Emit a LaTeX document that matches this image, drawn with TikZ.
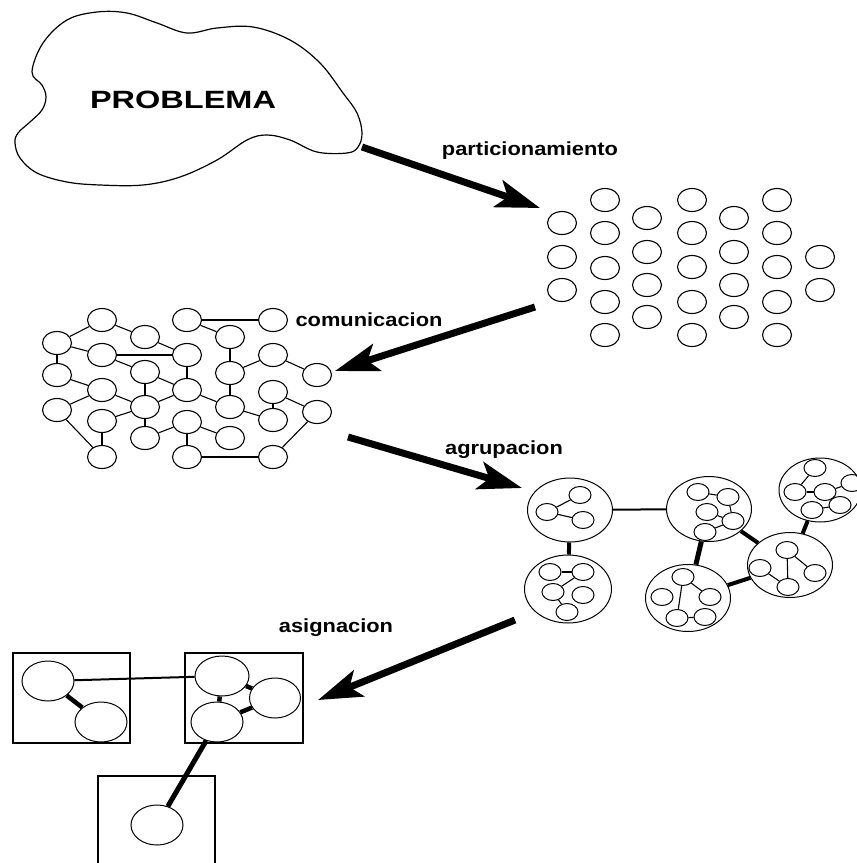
\documentclass[tikz,border=0pt]{standalone}
\usepackage{fontspec}
\setmainfont{Liberation Sans}
\usetikzlibrary{shapes.geometric,arrows.meta}
\begin{document}
\begin{tikzpicture}[x=1pt,y=-1pt,
  dot/.style={ellipse,draw,line width=1.1pt,minimum width=29pt,minimum height=23pt,inner sep=0pt},
  sub/.style={ellipse,draw,line width=1pt,minimum width=22pt,minimum height=17pt,inner sep=0pt},
  clus/.style={ellipse,draw,line width=1pt,inner sep=0pt},
  proc/.style={ellipse,draw,line width=1pt,minimum width=52pt,minimum height=40pt,inner sep=0pt},
  link/.style={line width=1.1pt},
  heavy/.style={line width=4.5pt},
  bigarrow/.style={line width=7pt,-{Stealth[length=44pt,width=28pt,inset=10pt]}},
  lbl/.style={font=\fontsize{19}{19}\selectfont\bfseries,inner sep=0pt,anchor=base}
]
\useasboundingbox (0,0) rectangle (857,863);

% ---- the problem cloud ----
\draw[line width=1.2pt] plot[smooth cycle,tension=0.6] coordinates {
  (32,72) (43,43) (67,20) (97,12) (127,13) (157,23) (187,33) (217,28)
  (253,27) (290,40) (320,63) (343,93) (357,113) (362,133) (358,147)
  (347,153) (317,152) (290,140) (267,135) (247,140) (217,160) (180,177)
  (143,185) (100,185) (67,182) (37,173) (20,158) (15,143) (18,133)
  (30,122) (42,110) (46,97) (42,85)};
\node[font=\fontsize{25}{25}\selectfont\bfseries,inner sep=0pt,anchor=base] (prob) at (183,108) {\scalebox{1.3}[1]{PROBLEMA}};

% ---- stage labels ----
\node[lbl] (lpart) at (530,155) {\scalebox{1.15}[1]{particionamiento}};
\node[lbl] (lcomm) at (369,326) {\scalebox{1.15}[1]{comunicacion}};
\node[lbl] (lagr)  at (504,454) {\scalebox{1.15}[1]{agrupacion}};
\node[lbl] (lasig) at (336,632) {\scalebox{1.15}[1]{asignacion}};

% ---- stage arrows ----
\coordinate (a1s) at (362,147); \coordinate (a1e) at (540,208);
\coordinate (a2s) at (535,307); \coordinate (a2e) at (335,371);
\coordinate (a3s) at (348,437); \coordinate (a3e) at (522,488);
\coordinate (a4s) at (515,620); \coordinate (a4e) at (318,700);
\draw[bigarrow] (a1s) -- (a1e);
\draw[bigarrow] (a2s) -- (a2e);
\draw[bigarrow] (a3s) -- (a3e);
\draw[bigarrow] (a4s) -- (a4e);

% ---- partitioned tasks ----
\foreach \y [count=\j] in {223,257,290} \node[dot] (p1-\j) at (562,\y) {};
\foreach \y [count=\j] in {200,233,268,302,335} \node[dot] (p2-\j) at (605,\y) {};
\foreach \y [count=\j] in {218,252,285,317} \node[dot] (p3-\j) at (647,\y) {};
\foreach \y [count=\j] in {200,233,267,302,335} \node[dot] (p4-\j) at (692,\y) {};
\foreach \y [count=\j] in {218,252,285,317} \node[dot] (p5-\j) at (734,\y) {};
\foreach \y [count=\j] in {200,233,267,302,335} \node[dot] (p6-\j) at (777,\y) {};
\foreach \y [count=\j] in {257,290} \node[dot] (p7-\j) at (820,\y) {};

% ---- communication graph ----
\foreach \n/\x/\y in {A/102/320,B/57/343,C/145/337,D/102/355,E/187/320,F/273/320,
  G/230/337,H/187/355,I/273/355,J/317/375,K/57/375,L/145/372,M/230/373,
  N/102/390,O/187/390,P/273/392,Q/57/410,R/145/407,S/230/407,T/317/412,
  U/102/421,V/273/420,W/187/422,X/145/438,Y/230/438,Z/102/457,AA/187/457,AB/273/457}
  \node[dot] (c\n) at (\x,\y) {};
\foreach \a/\b in {A/B,A/C,B/D,B/K,C/H,D/H,D/L,E/F,E/G,G/M,H/O,L/O,L/R,M/I,M/S,
  I/J,K/N,Q/N,N/R,O/R,O/S,S/V,P/V,P/T,U/R,U/Z,Q/Z,R/X,X/W,W/Y,W/AA,AA/AB,T/AB}
  \draw[link] (c\a) -- (c\b);

% ---- agglomerated clusters ----
\node[clus,minimum width=85pt,minimum height=64pt] (k1) at (570,510) {};
\node[clus,minimum width=87pt,minimum height=68pt] (k2) at (568,589) {};
\node[clus,minimum width=85pt,minimum height=65pt] (k3) at (709,509) {};
\node[clus,minimum width=82pt,minimum height=64pt] (k4) at (820,490) {};
\node[clus,minimum width=85pt,minimum height=65pt] (k5) at (790,565) {};
\node[clus,minimum width=85pt,minimum height=67pt] (k6) at (688,598) {};

\foreach \n/\x/\y in {11/580/495,12/547/512,13/583/520,
  21/550/572,22/583/572,23/553/592,24/583/595,25/567/612,
  31/698/492,32/728/497,33/707/512,34/733/521,35/705/532,
  41/815/468,42/795/492,43/825/492,44/852/483,45/812/510,46/840/505,
  51/787/550,52/760/568,53/815/573,54/788/587,
  61/683/577,62/662/597,63/710/597,64/677/618,65/705/617}
  \node[sub] (s\n) at (\x,\y) {};
\foreach \a/\b in {12/11,12/13,21/22,22/23,23/25,31/32,32/34,33/34,35/34,
  41/42,42/43,43/46,45/46,43/44,51/54,51/53,52/54,61/64,61/63,64/65}
  \draw[link] (s\a) -- (s\b);

\draw[line width=4pt] (k1) -- (k2);
\draw[line width=2pt] (k1) -- (k3);
\draw[line width=5pt] (k3) -- (k6);
\draw[line width=4pt] (k3) -- (k5);
\draw[line width=4pt] (k5) -- (k4);
\draw[line width=4pt] (k6) -- (k5);

% ---- processor assignment ----
\draw[line width=1.3pt] (13,653) rectangle (130,743);
\draw[line width=1.3pt] (185,653) rectangle (303,743);
\draw[line width=1.3pt] (98,776) rectangle (215,875);
\node[proc] (q1) at (48,681) {};
\node[proc] (q2) at (101,722) {};
\node[proc,minimum width=54pt] (q3) at (222,676) {};
\node[proc,minimum width=51pt] (q4) at (275,698) {};
\node[proc] (q5) at (217,722) {};
\node[proc] (q6) at (157,825) {};
\draw[line width=2pt] (q1) -- (q3);
\draw[heavy] (q1) -- (q2);
\draw[heavy] (q3) -- (q4);
\draw[heavy] (q3) -- (q5);
\draw[heavy] (q5) -- (q4);
\draw[line width=5pt] (q5) -- (q6);
\end{tikzpicture}
\end{document}
